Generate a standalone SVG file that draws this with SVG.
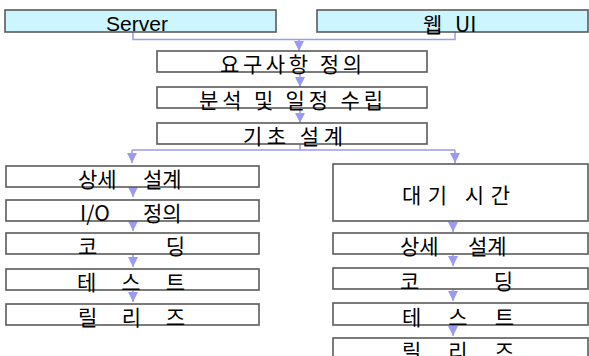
<svg xmlns="http://www.w3.org/2000/svg" width="589" height="356" viewBox="0 0 589 356">
<defs>
<style>
.box{fill:#fff;stroke:#5a5a5a;stroke-width:1.6}
.hdr{fill:#ccf5ff;stroke:#5a5a5a;stroke-width:1.6}
.t{font-family:"Noto Sans CJK KR","Noto Sans",sans-serif;font-size:21px;fill:#000}
.lat{font-family:"Liberation Sans",sans-serif;font-size:21px;fill:#000}
.c{fill:none;stroke:#9a9aee;stroke-width:1.5}
</style>
<marker id="arr" viewBox="0 0 10 10" refX="10" refY="5" markerWidth="10" markerHeight="10" markerUnits="userSpaceOnUse" orient="auto">
<path d="M0,0 L10,5 L0,10 z" fill="#9a9af2"/>
</marker>
</defs>
<rect width="589" height="356" fill="#fff"/>
<g id="connectors">
<path class="c" d="M133 32 V39.5 H455 V32"/>
<path class="c" d="M299 39.5 V51" marker-end="url(#arr)"/>
<path class="c" d="M300 72 V87" marker-end="url(#arr)"/>
<path class="c" d="M300 108 V123" marker-end="url(#arr)"/>
<path class="c" d="M300 144 V150"/>
<path class="c" d="M132 150 H455"/>
<path class="c" d="M132 150 V163" marker-end="url(#arr)"/>
<path class="c" d="M455 150 V163" marker-end="url(#arr)"/>
<path class="c" d="M133 187 V197" marker-end="url(#arr)"/>
<path class="c" d="M133 221 V231" marker-end="url(#arr)"/>
<path class="c" d="M133 254 V267" marker-end="url(#arr)"/>
<path class="c" d="M133 290 V302" marker-end="url(#arr)"/>
<path class="c" d="M453 221 V232" marker-end="url(#arr)"/>
<path class="c" d="M453 254 V266" marker-end="url(#arr)"/>
<path class="c" d="M453 289 V301" marker-end="url(#arr)"/>
<path class="c" d="M453 325 V336" marker-end="url(#arr)"/>
</g>
<g id="server"><rect class="hdr" x="5" y="10" width="271" height="22"/><text class="lat" x="106" y="31" textLength="62" lengthAdjust="spacingAndGlyphs">Server</text></g>
<g id="webui"><rect class="hdr" x="317" y="10" width="271" height="22"/><text class="t" x="423" y="32"><tspan>웹</tspan><tspan x="455">UI</tspan></text></g>
<g id="req"><rect class="box" x="157" y="51" width="270" height="21"/><text class="t" x="220" y="72" textLength="142" lengthAdjust="spacing">요구사항 정의</text></g>
<g id="analysis"><rect class="box" x="157" y="87" width="270" height="21"/><text class="t" x="199" y="108" textLength="184" lengthAdjust="spacing">분석 및 일정 수립</text></g>
<g id="basic"><rect class="box" x="157" y="123" width="270" height="21"/><text class="t" x="243" y="144" textLength="100" lengthAdjust="spacing">기초 설계</text></g>
<g id="l-detail"><rect class="box" x="6" y="166" width="253" height="21"/><text class="t" x="78" y="187"><tspan>상세</tspan><tspan x="143">설계</tspan></text></g>
<g id="l-io"><rect class="box" x="6" y="200" width="253" height="21"/><text class="t" x="80" y="221"><tspan>I/O</tspan><tspan x="143">정의</tspan></text></g>
<g id="l-coding"><rect class="box" x="6" y="233" width="253" height="21"/><text class="t" x="78" y="254" textLength="107" lengthAdjust="spacing">코 딩</text></g>
<g id="l-test"><rect class="box" x="6" y="269" width="253" height="21"/><text class="t" x="77" y="290" textLength="108" lengthAdjust="spacing">테 스 트</text></g>
<g id="l-release"><rect class="box" x="6" y="304" width="253" height="21"/><text class="t" x="78" y="325" textLength="107" lengthAdjust="spacing">릴 리 즈</text></g>
<g id="r-wait"><rect class="box" x="333" y="164" width="255" height="57"/><text class="t" x="402" y="203" textLength="108" lengthAdjust="spacing">대기 시간</text></g>
<g id="r-detail"><rect class="box" x="333" y="233" width="255" height="21"/><text class="t" x="400" y="254"><tspan>상세</tspan><tspan x="468">설계</tspan></text></g>
<g id="r-coding"><rect class="box" x="333" y="268" width="255" height="21"/><text class="t" x="400" y="289" textLength="113" lengthAdjust="spacing">코 딩</text></g>
<g id="r-test"><rect class="box" x="333" y="303" width="255" height="22"/><text class="t" x="402" y="325" textLength="112" lengthAdjust="spacing">테 스 트</text></g>
<g id="r-release"><rect class="box" x="333" y="338" width="255" height="25"/><text class="t" x="402" y="359" textLength="112" lengthAdjust="spacing">릴 리 즈</text></g>
</svg>
